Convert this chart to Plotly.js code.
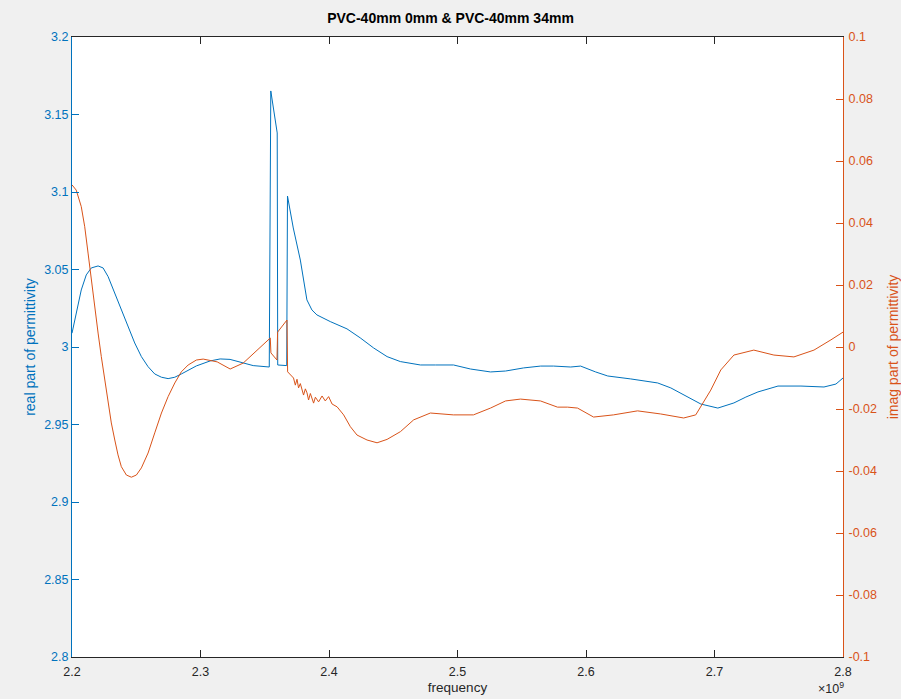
<!DOCTYPE html>
<html>
<head>
<meta charset="utf-8">
<script src="https://cdn.plot.ly/plotly-3.0.1.min.js"></script>
<style>html,body{margin:0;padding:0;background:#f0f0f0;}</style>
</head>
<body>
<div id="chart" style="width:901px;height:699px;"></div>
<script>
// frequency in units of 1e9 Hz
const realFreq = [2.2000,2.2033,2.2072,2.2111,2.2150,2.2203,2.2242,2.2281,2.2333,2.2384,2.2436,2.2488,2.2540,2.2592,2.2644,2.2696,2.2748,2.2800,2.2851,2.2904,2.2968,2.3075,2.3153,2.3230,2.3309,2.3410,2.3535,2.3547,2.3597,2.3601,2.3671,2.3677,2.3722,2.3777,2.3828,2.3867,2.3906,2.4010,2.4140,2.4243,2.4347,2.4452,2.4555,2.4711,2.4829,2.4969,2.5101,2.5257,2.5374,2.5514,2.5647,2.5748,2.5881,2.5958,2.6075,2.6169,2.6348,2.6558,2.6660,2.6738,2.6816,2.6894,2.7026,2.7151,2.7244,2.7338,2.7494,2.7673,2.7852,2.7945,2.8000];
const realPart = [3.0089,3.0220,3.0368,3.0465,3.0510,3.0523,3.0510,3.0454,3.0349,3.0239,3.0131,3.0026,2.9938,2.9873,2.9826,2.9805,2.9796,2.9805,2.9826,2.9852,2.9878,2.9910,2.9923,2.9920,2.9903,2.9880,2.9871,3.1652,3.1381,2.9884,2.9880,3.0974,3.0768,3.0561,3.0304,3.0239,3.0207,3.0164,3.0117,3.0059,2.9994,2.9938,2.9906,2.9884,2.9884,2.9884,2.9858,2.9839,2.9845,2.9865,2.9877,2.9877,2.9871,2.9877,2.9839,2.9813,2.9794,2.9768,2.9736,2.9703,2.9665,2.9632,2.9606,2.9639,2.9677,2.9710,2.9748,2.9748,2.9742,2.9761,2.9800];

const imagFreq = [2.2000,2.2033,2.2072,2.2099,2.2125,2.2150,2.2177,2.2203,2.2228,2.2255,2.2281,2.2306,2.2333,2.2358,2.2384,2.2423,2.2462,2.2501,2.2540,2.2592,2.2644,2.2696,2.2748,2.2800,2.2851,2.2904,2.2968,2.3021,2.3130,2.3231,2.3332,2.3465,2.3543,2.3548,2.3595,2.3600,2.3636,2.3673,2.3678,2.3724,2.3738,2.3751,2.3763,2.3777,2.3802,2.3816,2.3829,2.3841,2.3855,2.3868,2.3880,2.3894,2.3907,2.3919,2.3946,2.3958,2.3971,2.3997,2.4010,2.4024,2.4063,2.4114,2.4166,2.4218,2.4296,2.4374,2.4452,2.4556,2.4659,2.4712,2.4789,2.4968,2.5124,2.5257,2.5374,2.5490,2.5646,2.5778,2.5856,2.5934,2.6059,2.6214,2.6401,2.6581,2.6760,2.6854,2.6971,2.7049,2.7151,2.7306,2.7462,2.7618,2.7774,2.7906,2.8000];
const imagPart = [0.0523,0.0506,0.0453,0.0388,0.0303,0.0216,0.0119,0.0045,-0.0031,-0.0106,-0.0181,-0.0245,-0.0300,-0.0348,-0.0386,-0.0413,-0.0420,-0.0413,-0.0390,-0.0342,-0.0277,-0.0213,-0.0160,-0.0116,-0.0080,-0.0058,-0.0042,-0.0039,-0.0048,-0.0071,-0.0052,0.0000,0.0029,-0.0019,-0.0042,0.0048,0.0068,0.0087,-0.0080,-0.0100,-0.0123,-0.0104,-0.0132,-0.0118,-0.0155,-0.0135,-0.0148,-0.0171,-0.0150,-0.0171,-0.0181,-0.0162,-0.0171,-0.0177,-0.0158,-0.0165,-0.0174,-0.0160,-0.0171,-0.0184,-0.0193,-0.0219,-0.0257,-0.0284,-0.0300,-0.0309,-0.0298,-0.0273,-0.0235,-0.0225,-0.0213,-0.0219,-0.0219,-0.0197,-0.0174,-0.0168,-0.0174,-0.0194,-0.0194,-0.0197,-0.0226,-0.0219,-0.0206,-0.0216,-0.0229,-0.0219,-0.0139,-0.0074,-0.0026,-0.0010,-0.0026,-0.0032,-0.0010,0.0023,0.0048];

const xTicks = [2.2,2.3,2.4,2.5,2.6,2.7,2.8];
const xTickLabels = ['2.2','2.3','2.4','2.5','2.6','2.7','2.8'];
const yLeftTicks = [2.8,2.85,2.9,2.95,3,3.05,3.1,3.15,3.2];
const yLeftLabels = ['2.8','2.85','2.9','2.95','3','3.05','3.1','3.15','3.2'];
const yRightTicks = [-0.1,-0.08,-0.06,-0.04,-0.02,0,0.02,0.04,0.06,0.08,0.1];
const yRightLabels = ['-0.1','-0.08','-0.06','-0.04','-0.02','0','0.02','0.04','0.06','0.08','0.1'];

const BLUE = '#0072BD';
const ORANGE = '#D95319';
const DARK = '#262626';
const FONT = 'Liberation Sans, Arial, sans-serif';

const traces = [
  {x: realFreq, y: realPart, type: 'scatter', mode: 'lines', line: {color: BLUE, width: 1}, yaxis: 'y', showlegend: false},
  {x: imagFreq, y: imagPart, type: 'scatter', mode: 'lines', line: {color: ORANGE, width: 1}, yaxis: 'y2', showlegend: false}
];

const layout = {
  width: 901, height: 699,
  paper_bgcolor: '#f0f0f0', plot_bgcolor: '#ffffff',
  margin: {l: 72, r: 58, t: 37, b: 42},
  font: {family: FONT, size: 12, color: DARK},
  title: {text: '<b>PVC-40mm 0mm & PVC-40mm 34mm</b>', font: {family: FONT, size: 14, color: '#000'}, x: 0.5, xanchor: 'center', y: 1 - 18/699, yref: 'container', yanchor: 'middle'},
  xaxis: {
    range: [2.2, 2.8], tickvals: xTicks, ticktext: xTickLabels,
    ticks: 'inside', ticklen: 7, tickcolor: DARK, tickwidth: 1,
    showline: true, linecolor: DARK, linewidth: 1, mirror: 'ticks',
    showgrid: false, zeroline: false, ticklabelstandoff: 3,
    tickfont: {family: FONT, size: 12.5, color: DARK},
    title: {text: 'frequency', font: {family: FONT, size: 13.5, color: DARK}, standoff: 4}
  },
  yaxis: {
    range: [2.8, 3.2], tickvals: yLeftTicks, ticktext: yLeftLabels,
    ticks: 'inside', ticklen: 7, tickcolor: BLUE, tickwidth: 1,
    showline: true, linecolor: BLUE, linewidth: 1,
    showgrid: false, zeroline: false,
    tickfont: {family: FONT, size: 12.5, color: BLUE},
    title: {text: 'real part of permittivity', font: {family: FONT, size: 14, color: BLUE}, standoff: 5}
  },
  yaxis2: {
    range: [-0.1, 0.1], tickvals: yRightTicks, ticktext: yRightLabels,
    overlaying: 'y', side: 'right',
    ticks: 'inside', ticklen: 7, tickcolor: ORANGE, tickwidth: 1,
    showline: true, linecolor: ORANGE, linewidth: 1,
    showgrid: false, zeroline: false, ticklabelstandoff: 2,
    tickfont: {family: FONT, size: 12.5, color: ORANGE},
    title: {text: 'imag part of permittivity', font: {family: FONT, size: 14, color: ORANGE}, standoff: 12}
  },
  annotations: [
    {text: '×10<sup>9</sup>', xref: 'paper', yref: 'paper', x: 1.004, y: -0.05, xanchor: 'right', yanchor: 'middle', showarrow: false, font: {family: FONT, size: 12.5, color: DARK}}
  ]
};

Plotly.newPlot('chart', traces, layout, {displayModeBar: false, staticPlot: true});
</script>
</body>
</html>
